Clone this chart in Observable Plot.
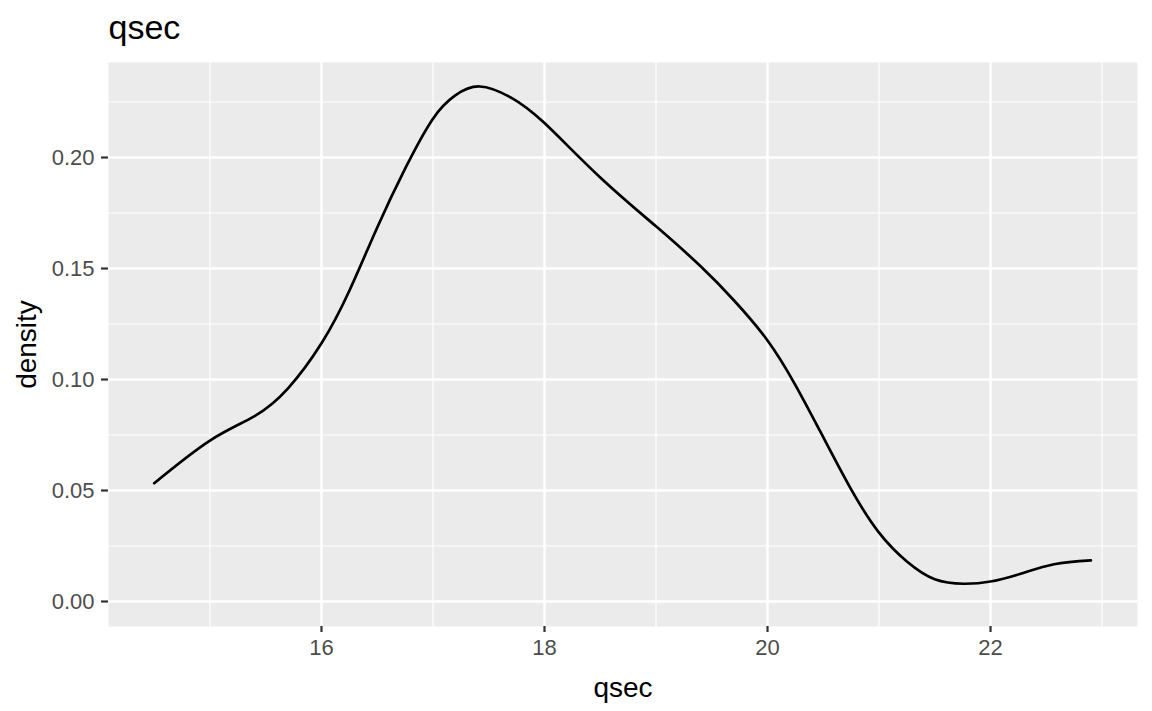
<!DOCTYPE html>
<html>
<head>
<meta charset="utf-8">
<script src="https://cdn.jsdelivr.net/npm/d3@7"></script>
<script src="https://cdn.jsdelivr.net/npm/@observablehq/plot@0.6"></script>
<style>
  html, body { margin: 0; padding: 0; background: #fff; }
  #chart svg { display: block; }
</style>
</head>
<body>
<div id="chart"></div>
<script>
// Density curve (qsec vs density)
const qsec = [14.50, 15.00, 15.40, 15.70, 16.00, 16.25, 16.50, 16.75, 17.00, 17.20, 17.42, 17.70, 18.00, 18.50, 19.00, 19.40, 19.70, 20.00, 20.25, 20.50, 20.75, 21.00, 21.25, 21.50, 21.76, 22.00, 22.27, 22.57, 22.90];
const density = [0.0533, 0.0725, 0.0835, 0.0960, 0.1163, 0.1400, 0.1685, 0.1950, 0.2175, 0.2280, 0.2320, 0.2270, 0.2155, 0.1910, 0.1690, 0.1510, 0.1356, 0.1176, 0.0975, 0.0740, 0.0505, 0.0310, 0.0180, 0.0100, 0.0080, 0.0090, 0.0125, 0.0168, 0.0185];

const xMajor = [16, 18, 20, 22];
const xMinor = [15, 17, 19, 21, 23];
const yMajor = [0, 0.05, 0.10, 0.15, 0.20];
const yMinor = [0.025, 0.075, 0.125, 0.175, 0.225];

const titleText = "qsec";
const xLabel = "qsec";
const yLabel = "density";

const rows = qsec.map((x, i) => ({x, y: density[i]}));
const font = "Liberation Sans, Arial, Helvetica, sans-serif";

const chart = Plot.plot({
  width: 1152,
  height: 711,
  marginLeft: 108,
  marginRight: 15,
  marginTop: 62,
  marginBottom: 85,
  style: {fontFamily: font, background: "#fff"},
  x: {domain: [14.09, 23.318]},
  y: {domain: [-0.01126, 0.2428]},
  marks: [
    Plot.frame({fill: "#EBEBEB", stroke: null}),
    Plot.ruleX(xMinor, {stroke: "#fff", strokeWidth: 1.2}),
    Plot.ruleY(yMinor, {stroke: "#fff", strokeWidth: 1.2}),
    Plot.ruleX(xMajor, {stroke: "#fff", strokeWidth: 2.4}),
    Plot.ruleY(yMajor, {stroke: "#fff", strokeWidth: 2.4}),
    Plot.line(rows, {x: "x", y: "y", stroke: "#000", strokeWidth: 2.7, curve: "natural"}),
    Plot.axisX(xMajor, {tickSize: 6, tickPadding: 7, stroke: "#333", strokeWidth: 2.2, fill: "#4D4D4D", fontSize: 22, label: null}),
    Plot.axisY(yMajor, {tickSize: 7, tickPadding: 7, stroke: "#333", strokeWidth: 2.2, fill: "#4D4D4D", fontSize: 22, tickFormat: d3.format(".2f"), label: null}),
    Plot.text([titleText], {frameAnchor: "top-left", textAnchor: "start", lineAnchor: "bottom", dy: -24, fontSize: 34, fill: "#000"}),
    Plot.text([xLabel], {frameAnchor: "bottom", textAnchor: "middle", lineAnchor: "bottom", dy: 70, fontSize: 28, fill: "#000"}),
    Plot.text([yLabel], {frameAnchor: "left", textAnchor: "middle", lineAnchor: "bottom", rotate: -90, dx: -73, fontSize: 28, fill: "#000"})
  ]
});
document.getElementById("chart").appendChild(chart);
</script>
</body>
</html>
